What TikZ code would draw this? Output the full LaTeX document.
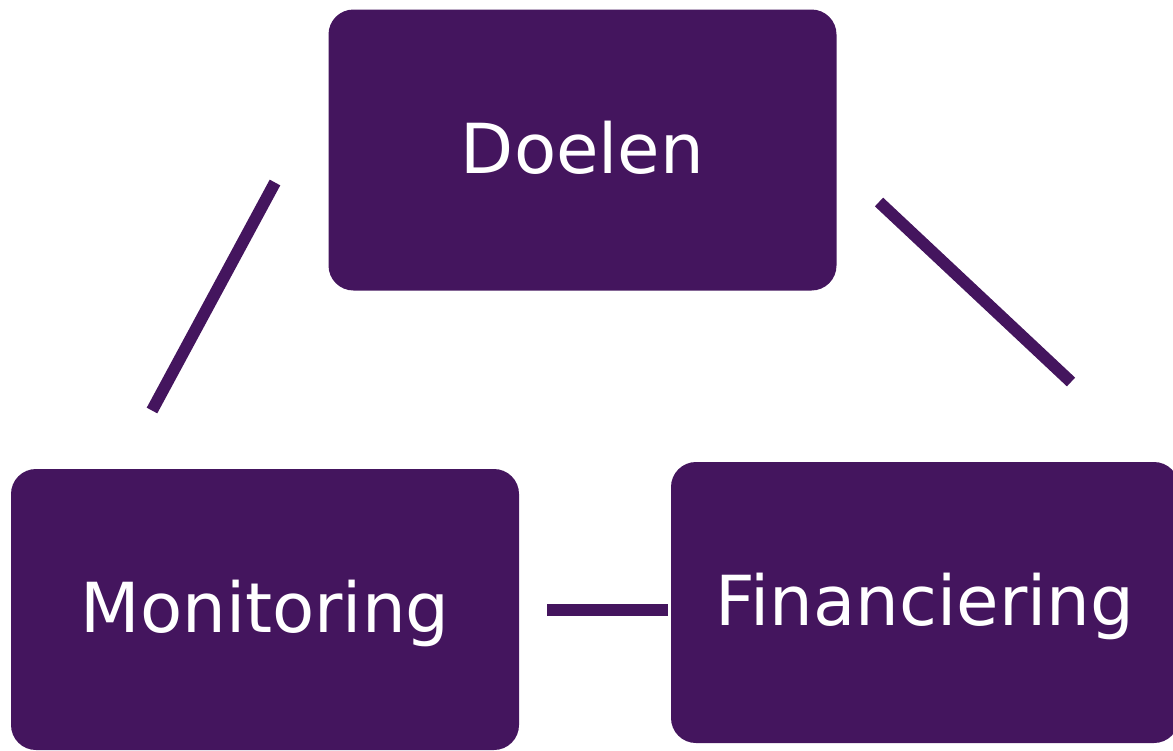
\documentclass[tikz,border=0pt]{standalone}
\usepackage{fontspec}
\setmainfont{DejaVu Sans}
\definecolor{plum}{RGB}{68,21,94}
\tikzset{
  box/.style={fill=plum, draw=none, rounded corners=18.75pt, minimum width=381pt,
    minimum height=210.75pt, inner sep=0pt, text=white,
    font=\fontsize{51.75pt}{60pt}\selectfont, text height=37.7pt, text depth=3pt},
  link/.style={draw=plum, line width=9pt}
}
\begin{document}
\begin{tikzpicture}[x=0.75pt,y=-0.75pt]
\useasboundingbox (0,0) rectangle (1173,750);
\clip (0,0) rectangle (1173,750);
\node[box] (doelen) at (582.5,150) {Doelen};
\node[box] (monitoring) at (265,609.5) {Monitoring};
\node[box] (financiering) at (925,602.5) {Financiering};
\coordinate (a1) at (275,182.5);
\coordinate (a2) at (152,410.5);
\coordinate (b1) at (879,202);
\coordinate (b2) at (1071,382);
\coordinate (c1) at (547,610);
\coordinate (c2) at (668,610);
\draw[link] (a1) -- (a2);
\draw[link] (b1) -- (b2);
\draw[link] (c1) -- (c2);
\end{tikzpicture}
\end{document}
